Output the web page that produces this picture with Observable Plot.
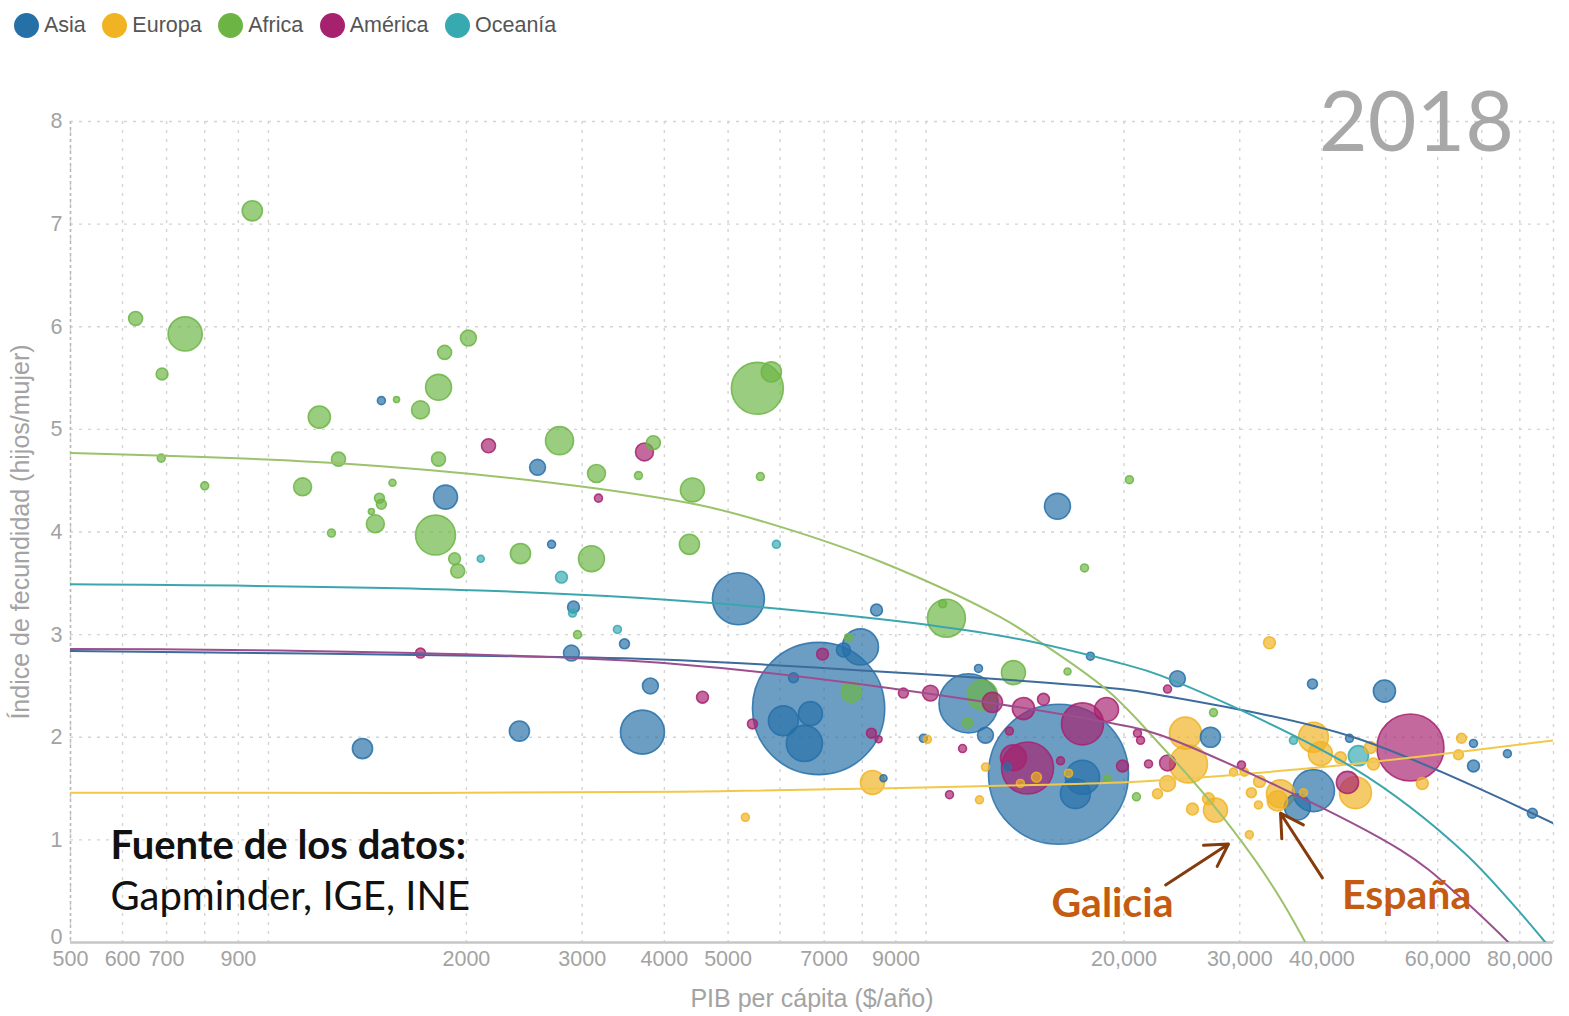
<!DOCTYPE html>
<html>
<head>
<meta charset="utf-8">
<script src="https://cdn.jsdelivr.net/npm/d3@7"></script>
<script src="https://cdn.jsdelivr.net/npm/@observablehq/plot@0.6"></script>
<style>
  html, body { margin: 0; padding: 0; background: #fff; }
  body { width: 1569px; height: 1016px; overflow: hidden; }
  #legend { height: 50px; display: flex; align-items: center; padding-left: 14px;
    font-family: "Liberation Sans", Arial, sans-serif;
    font-size: 21.5px; color: #555; }
  .item { display: flex; align-items: center; margin-right: 16.5px; }
  .sw { width: 25px; height: 25px; border-radius: 50%; margin-right: 5px; }
  #chart svg { display: block; }
</style>
</head>
<body>
<div id="legend"></div>
<div id="chart"></div>
<script>
// ---- Categories and colours ----
const continentes = ["Asia", "Europa", "Africa", "América", "Oceanía"];
const colores = ["#2670a8", "#f0b323", "#6cb544", "#a7226e", "#36a9b1"];

// ---- Bubbles: [PIB per cápita, índice de fecundidad, población (millones)] ----
const asia = [
  [1485, 5.28, 4.5], [1859, 4.34, 41], [2566, 4.63, 18], [2695, 3.88, 4.5], [1390, 1.89, 29],
  [2408, 2.06, 29], [2910, 3.27, 10], [3479, 2.91, 7], [2889, 2.82, 18], [3809, 2.50, 18],
  [3705, 2.05, 138], [5184, 3.35, 193], [8409, 3.24, 10], [7948, 2.88, 93], [7489, 2.85, 14],
  [6865, 2.28, 1250], [6287, 2.58, 7], [6068, 2.16, 64], [6672, 2.23, 41], [6532, 1.94, 93],
  [11606, 2.33, 250], [12017, 2.67, 4.5], [12314, 2.02, 18], [9908, 1.99, 4.5], [15902, 1.64, 1400],
  [13298, 1.71, 4.5], [17298, 1.61, 83], [16874, 1.45, 64], [15846, 4.25, 48], [17784, 2.79, 4.5],
  [24116, 2.57, 18], [27078, 2.00, 29], [38701, 2.52, 7], [49788, 2.45, 35], [44054, 1.99, 4.5],
  [36715, 1.32, 48], [38835, 1.48, 126], [68007, 1.94, 4.5], [68007, 1.72, 10], [76583, 1.84, 4.5],
  [83584, 1.26, 7], [8617, 1.60, 3.5]
];
const europa = [
  [8290, 1.56, 41], [5312, 1.22, 4.5], [10049, 1.98, 4.5], [12314, 1.71, 4.5], [12059, 1.39, 4.5],
  [14721, 1.61, 7], [13917, 1.55, 4.5], [16472, 1.65, 4.5], [22490, 1.45, 7], [24803, 2.04, 73],
  [25069, 1.74, 103], [23296, 1.55, 18], [25424, 1.30, 10], [27552, 1.29, 41], [26887, 1.40, 10],
  [29350, 1.66, 4.5], [30494, 1.66, 4.5], [32146, 1.57, 10], [31246, 1.46, 7], [32027, 1.34, 4.5],
  [31024, 1.05, 4.5], [33289, 2.92, 10], [34595, 1.45, 56], [34231, 1.38, 29], [38835, 2.00, 64],
  [39789, 1.84, 41], [42678, 1.80, 10], [47409, 1.90, 10], [47914, 1.74, 10], [44983, 1.46, 73],
  [65209, 1.99, 7], [64520, 1.83, 7], [56855, 1.55, 10], [37502, 1.46, 4.5]
];
const africa = [
  [945, 7.13, 29], [628, 6.08, 14], [747, 5.93, 83], [689, 5.54, 10], [687, 4.72, 4.5],
  [800, 4.45, 4.5], [1195, 5.12, 35], [1278, 4.71, 14], [1127, 4.44, 23], [1566, 5.29, 2.6],
  [1703, 5.19, 23], [1814, 5.41, 48], [1853, 5.75, 14], [2014, 5.89, 18], [1814, 4.71, 14],
  [1544, 4.48, 3.5], [1475, 4.33, 7], [1485, 4.27, 7], [1434, 4.20, 2.6], [1454, 4.08, 23],
  [1247, 3.99, 4.5], [1795, 3.97, 114], [1919, 3.74, 10], [1940, 3.62, 14], [2417, 3.79, 29],
  [2771, 4.89, 56], [5540, 5.40, 193], [5818, 5.56, 29], [3849, 4.87, 14], [3154, 4.57, 23],
  [3653, 4.55, 4.5], [4413, 4.41, 41], [5599, 4.54, 4.5], [3099, 3.74, 48], [4367, 3.88, 29],
  [2951, 3.00, 4.5], [10740, 3.16, 103], [10600, 3.30, 4.5], [7703, 2.44, 29], [7623, 2.97, 4.5],
  [13582, 2.63, 41], [16413, 2.64, 3.5], [12184, 2.41, 64], [11566, 2.14, 7], [18882, 1.59, 4.5],
  [20894, 1.42, 4.5], [27363, 2.24, 4.5], [20384, 4.51, 4.5], [17419, 3.65, 4.5]
];
const america = [
  [2161, 4.84, 14], [3731, 4.78, 23], [3176, 4.33, 4.5], [1703, 2.82, 7], [4572, 2.39, 10],
  [5446, 2.13, 7], [6960, 2.81, 10], [8260, 2.04, 7], [8469, 1.98, 3.5], [9238, 2.43, 7],
  [10156, 2.43, 18], [12617, 2.34, 29], [11365, 1.89, 4.5], [10857, 1.44, 4.5], [13391, 2.06, 4.5],
  [14065, 2.28, 35], [15087, 2.37, 10], [17298, 2.13, 126], [18815, 2.27, 41], [14268, 1.70, 193],
  [13582, 1.80, 48], [16016, 1.77, 4.5], [19897, 1.72, 10], [20970, 2.04, 4.5], [21197, 1.97, 4.5],
  [21796, 1.74, 4.5], [23296, 2.47, 4.5], [30179, 1.73, 4.5], [43746, 1.56, 35], [54539, 1.90, 320],
  [23296, 1.75, 18]
];
const oceania = [
  [2103, 3.74, 3.5], [2790, 3.56, 10], [2900, 3.21, 4.5], [3394, 3.05, 4.5], [5922, 3.88, 4.5],
  [36201, 1.97, 4.5], [45460, 1.82, 29]
];

// ---- Trend lines: [PIB, fecundidad] ----
const tendAsia = [[500, 2.84], [2348, 2.79], [4236, 2.75], [19760, 2.47], [22760, 2.41], [44680, 2.00], [90000, 1.16]];
const tendEuropa = [[500, 1.46], [4236, 1.47], [19760, 1.56], [22760, 1.58], [44680, 1.74], [90000, 1.97]];
const tendAfrica = [[500, 4.77], [1279, 4.67], [2692, 4.48], [4538, 4.26], [6011, 4.05], [8532, 3.71], [12976, 3.17], [15298, 2.88], [19000, 2.44], [22760, 1.92], [27010, 1.38], [31600, 0.81], [34800, 0.40], [37760, 0]];
const tendAmerica = [[500, 2.86], [4236, 2.71], [19760, 2.12], [22760, 2.02], [52700, 0.90], [65000, 0.44], [76900, 0]];
const tendOceania = [[500, 3.49], [2103, 3.43], [5350, 3.28], [12976, 2.99], [19760, 2.72], [22760, 2.60], [44680, 1.70], [65730, 0.88], [87500, 0]];
const lineColors = ["#3d6b9b", "#f2c84b", "#9cc26b", "#9b4f8e", "#3ba6ae"];

// ---- Axes ----
const xGrid = [500, 600, 700, 800, 900, 1000, 2000, 3000, 4000, 5000, 6000, 7000, 8000, 9000,
  10000, 20000, 30000, 40000, 50000, 60000, 70000, 80000, 90000];
const xTicks = [500, 600, 700, 900, 2000, 3000, 4000, 5000, 7000, 9000, 20000, 30000, 40000, 60000, 80000];
const yTicks = [0, 1, 2, 3, 4, 5, 6, 7, 8];
const xTitulo = "PIB per cápita ($/año)";
const yTitulo = "Índice de fecundidad (hijos/mujer)";

// ---- Annotations ----
const fuenteTitulo = "Fuente de los datos:";
const fuenteTexto = "Gapminder, IGE, INE";
const fuenteX = 575;
const fuenteY = [0.94, 0.44];
const etiquetas = ["Galicia", "España"];
const etiquetasX = [19210, 53800];
const etiquetasY = [0.38, 0.45];
const flechas = [
  {x1: 23140, y1: 0.56, x2: 28840, y2: 0.96},
  {x1: 40070, y1: 0.63, x2: 34600, y2: 1.26}
];
const anio = "2018";
const anioX = 55700, anioY = 7.97;

// ---- Build table ----
const grupos = [asia, europa, africa, america, oceania];
const burbujas = grupos.flatMap((g, i) => g.map(([pib, fec, pob]) => ({continente: continentes[i], pib, fec, pob})));
const tendencias = [tendAsia, tendEuropa, tendAfrica, tendAmerica, tendOceania];

// Legend
const legend = document.getElementById("legend");
continentes.forEach((c, i) => {
  const it = document.createElement("div");
  it.className = "item";
  it.innerHTML = `<span class="sw" style="background:${colores[i]}"></span><span>${c}</span>`;
  legend.appendChild(it);
});

const tickFont = "'Liberation Sans', Arial, sans-serif";
const calloutFont = "Lato, 'Open Sans', sans-serif";
const fmt = d => d >= 10000 ? d3.format(",")(d) : String(d);
const gray = "#a3a3a3";

const chart = Plot.plot({
  width: 1569,
  height: 966,
  marginLeft: 70,
  marginRight: 16,
  marginTop: 71,
  marginBottom: 74,
  style: {fontFamily: tickFont, background: "#fff"},
  x: {type: "log", domain: [500, 90000], axis: null},
  y: {domain: [0, 8], axis: null},
  r: {type: "sqrt", domain: [0, 1400], range: [0, 70]},
  color: {domain: continentes, range: colores},
  marks: [
    Plot.gridX(xGrid, {stroke: "#d4d4d4", strokeOpacity: 1, strokeWidth: 1.4, strokeDasharray: "3,6"}),
    Plot.gridY(yTicks.filter(d => d > 0), {stroke: "#d4d4d4", strokeOpacity: 1, strokeWidth: 1.4, strokeDasharray: "3,6"}),
    Plot.ruleX([500], {stroke: "#b8b8b8", strokeWidth: 1.5, strokeDasharray: "3,3"}),
    Plot.ruleY([0], {stroke: "#c6c6c6", strokeWidth: 2.5}),
    // tick labels
    Plot.text(xTicks, {x: d => d, frameAnchor: "bottom", dy: 17, text: fmt, fontSize: 21.5, fill: gray, lineAnchor: "middle"}),
    Plot.text(yTicks.filter(d => d > 0), {y: d => d, frameAnchor: "left", dx: -8, text: d => String(d), textAnchor: "end", fontSize: 21.5, fill: gray, lineAnchor: "middle"}),
    Plot.text(yTicks.filter(d => d === 0), {y: d => d, frameAnchor: "left", dx: -8, dy: -5, text: d => String(d), textAnchor: "end", fontSize: 21.5, fill: gray, lineAnchor: "middle"}),
    // axis titles
    Plot.text([xTitulo], {frameAnchor: "bottom", dy: 56, text: d => d, fontSize: 25, fill: gray, lineAnchor: "middle", textAnchor: "middle"}),
    Plot.text([yTitulo], {frameAnchor: "left", dx: -50, rotate: -90, text: d => d, fontSize: 25, fill: gray, lineAnchor: "middle", textAnchor: "middle"}),
    // year
    Plot.text([anio], {x: anioX, y: anioY, text: d => d, fontSize: 84, fill: "#a8a8a8", fontFamily: calloutFont, lineAnchor: "middle"}),
    // bubbles
    Plot.dot(burbujas, {x: "pib", y: "fec", r: "pob", fill: "continente", stroke: "continente", fillOpacity: 0.68, strokeOpacity: 0.85, strokeWidth: 1.6}),
    // trend lines
    ...tendencias.map((t, i) => Plot.line(t, {x: d => d[0], y: d => d[1], stroke: lineColors[i], strokeWidth: 2, curve: "catmull-rom", clip: true})),
    // source
    Plot.text([fuenteTitulo], {x: fuenteX, y: fuenteY[0], text: d => d, textAnchor: "start", lineAnchor: "middle", fontSize: 40, fontFamily: calloutFont, fontWeight: "bold", fill: "#111"}),
    Plot.text([fuenteTexto], {x: fuenteX, y: fuenteY[1], text: d => d, textAnchor: "start", lineAnchor: "middle", fontSize: 40, fontFamily: calloutFont, fill: "#111"}),
    // callouts
    Plot.arrow(flechas, {x1: "x1", y1: "y1", x2: "x2", y2: "y2", stroke: "#843c0c", strokeWidth: 3, headLength: 14}),
    Plot.text(etiquetas, {x: (d, i) => etiquetasX[i], y: (d, i) => etiquetasY[i], text: d => d, fontSize: 41, fontWeight: "bold", fill: "#c55a11", fontFamily: calloutFont, lineAnchor: "middle"})
  ]
});
document.getElementById("chart").appendChild(chart);
</script>
</body>
</html>
